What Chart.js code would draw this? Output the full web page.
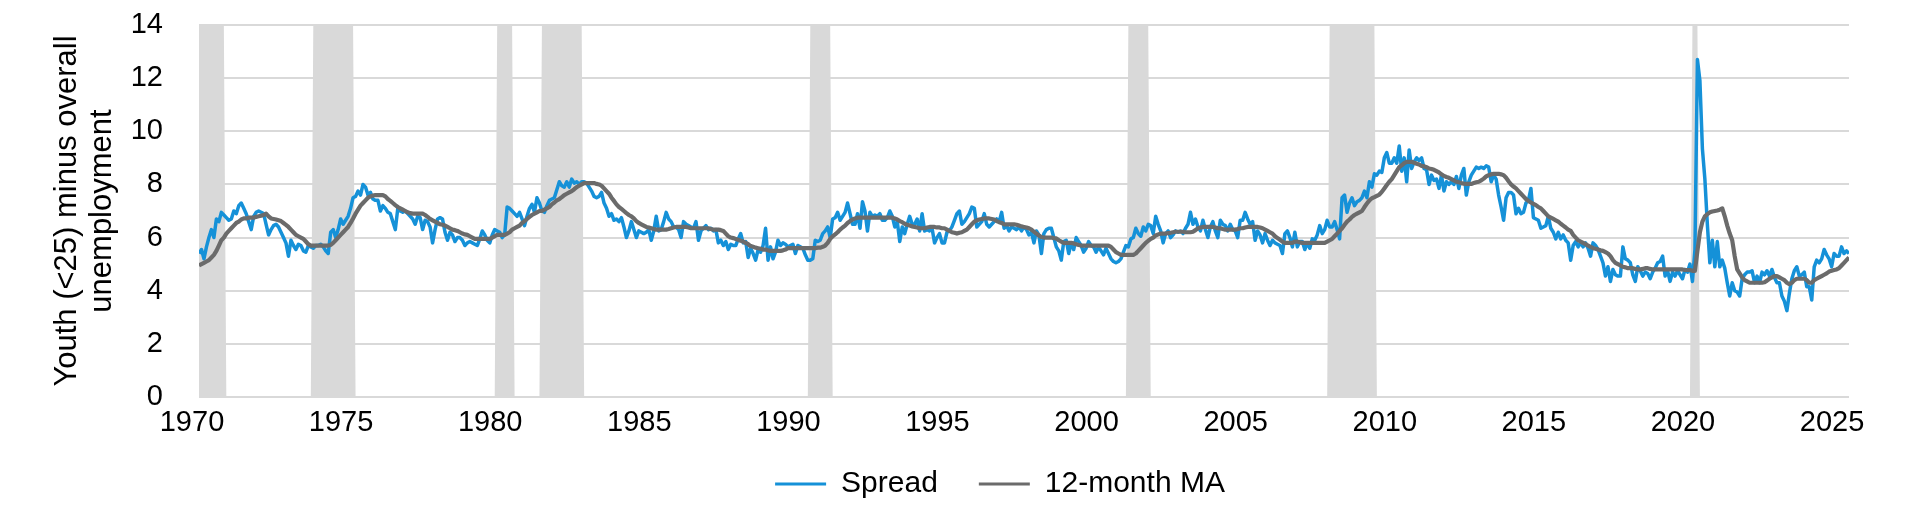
<!DOCTYPE html>
<html>
<head>
<meta charset="utf-8">
<script src="https://cdn.jsdelivr.net/npm/chart.js"></script>
<style>
	html, body { margin: 0; padding: 0; background: #fff; }
	#chartSpread { display: block; }
</style>
</head>
<body>
<canvas id="chartSpread" width="1913" height="506"></canvas>
<script>
'use strict'

// monthly series, first point = Jan 1970
const firstYear = 1970;

const spread = [
	5.4, 5.55, 5.2, 5.65, 6.0, 6.3, 6.0, 6.7, 6.6, 6.95, 6.85, 6.75,
	6.65, 6.7, 7.0, 6.9, 7.2, 7.3, 7.1, 6.9, 6.6, 6.3, 6.8, 6.95,
	7.0, 6.95, 6.9, 6.5, 6.1, 6.3, 6.45, 6.5, 6.4, 6.2, 6.0, 5.8,
	5.3, 5.9, 5.7, 5.55, 5.75, 5.7, 5.5, 5.45, 5.7, 5.65, 5.6, 5.7,
	5.7, 5.75, 5.65, 5.5, 5.4, 6.2, 6.3, 6.0, 6.3, 6.7, 6.5, 6.65,
	6.8, 7.1, 7.5, 7.55, 7.75, 7.6, 8.0, 7.9, 7.6, 7.7, 7.45, 7.4,
	7.4, 7.0, 7.2, 7.1, 6.95, 6.9, 6.6, 6.3, 7.1, 7.0, 6.95, 7.0,
	6.9, 6.8, 6.7, 6.5, 6.8, 6.75, 6.3, 6.65, 6.6, 6.4, 5.8, 6.3,
	6.7, 6.75, 6.7, 6.2, 5.9, 6.2, 6.1, 5.85, 6.0, 6.0, 5.9, 5.7,
	5.8, 5.85, 5.8, 5.75, 5.7, 5.95, 6.25, 6.1, 5.9, 5.8, 6.1, 6.3,
	6.25, 6.2, 6.0, 6.1, 7.15, 7.1, 7.0, 6.9, 6.8, 6.95, 6.7, 6.45,
	6.8, 7.1, 7.25, 6.95, 7.5, 7.3, 7.0, 6.95, 7.2, 7.4, 7.45, 7.5,
	7.8, 8.1, 7.95, 7.9, 8.1, 7.9, 8.2, 8.05, 8.1, 8.0, 8.1, 8.1,
	8.05, 7.9, 7.75, 7.55, 7.5, 7.55, 7.7, 7.3, 7.1, 6.8, 6.9, 6.65,
	6.7, 6.6, 6.75, 6.4, 6.0, 6.25, 6.6, 6.3, 6.0, 6.25, 6.2, 6.15,
	6.2, 6.3, 5.9, 6.25, 6.8, 6.25, 6.3, 6.6, 6.95, 6.7, 6.6, 6.4,
	6.4, 6.3, 6.0, 6.6, 6.5, 6.45, 6.4, 6.35, 6.6, 5.9, 6.25, 6.35,
	6.45, 6.3, 6.35, 6.25, 6.3, 5.8, 5.9, 5.7, 5.85, 5.55, 5.75, 5.7,
	5.7, 5.95, 6.15, 5.8, 5.85, 5.25, 5.6, 5.4, 5.15, 5.55, 5.45, 5.7,
	6.35, 5.15, 5.65, 5.2, 5.45, 5.9, 5.7, 5.8, 5.75, 5.65, 5.7, 5.75,
	5.4, 5.7, 5.65, 5.6, 5.35, 5.15, 5.15, 5.2, 5.9, 5.85, 5.9, 6.15,
	6.25, 6.4, 6.0, 6.7, 6.75, 6.95, 6.65, 6.8, 6.95, 7.3, 6.9, 6.5,
	6.5, 6.9, 6.35, 7.35, 7.0, 6.25, 6.95, 6.8, 6.85, 6.8, 6.9, 6.65,
	6.65, 6.75, 7.0, 6.8, 6.4, 6.6, 5.85, 6.4, 6.15, 6.5, 6.8, 6.5,
	6.5, 6.7, 6.25, 6.9, 6.25, 6.3, 6.25, 6.35, 5.8, 6.0, 6.15, 5.8,
	5.8, 6.2, 6.25, 6.4, 6.65, 6.9, 7.0, 6.5, 6.6, 6.75, 6.9, 7.15,
	7.1, 6.4, 6.5, 6.6, 6.9, 6.5, 6.4, 6.5, 6.6, 6.7, 6.6, 6.95,
	6.35, 6.45, 6.25, 6.4, 6.35, 6.3, 6.4, 6.25, 6.4, 6.3, 6.1, 6.2,
	5.8, 6.25, 6.1, 5.4, 6.15, 6.3, 6.35, 6.35, 6.0, 5.65, 5.5, 5.15,
	5.85, 5.9, 5.4, 5.8, 5.55, 6.0, 5.85, 5.7, 5.45, 5.6, 5.85, 5.7,
	5.65, 5.45, 5.65, 5.5, 5.35, 5.6, 5.4, 5.2, 5.1, 5.05, 5.1, 5.2,
	5.45, 5.7, 5.65, 5.95, 6.0, 6.35, 6.15, 6.05, 6.4, 6.25, 6.5, 6.45,
	6.15, 6.8, 6.5, 6.25, 5.8, 6.15, 6.25, 6.0, 6.1, 6.25, 6.2, 6.25,
	6.15, 6.35, 6.5, 6.95, 6.5, 6.7, 6.4, 6.25, 6.65, 6.3, 6.0, 6.4,
	6.6, 6.25, 6.0, 6.65, 6.5, 6.45, 6.25, 6.5, 6.3, 6.25, 6.0, 6.65,
	6.65, 6.95, 6.7, 6.5, 6.6, 5.9, 6.25, 6.1, 5.8, 6.15, 5.9, 5.7,
	5.9, 5.8, 5.75, 5.7, 5.4, 6.15, 6.25, 6.0, 5.65, 6.2, 5.65, 5.85,
	5.85, 5.55, 5.8, 5.6, 5.95, 5.9, 6.1, 6.45, 6.15, 6.3, 6.65, 6.4,
	6.4, 6.6, 6.3, 5.95, 7.5, 7.6, 6.95, 7.3, 7.5, 7.2, 7.35, 7.4,
	7.5, 7.75, 7.5, 8.1, 7.9, 8.4, 8.35, 8.5, 8.45, 9.0, 9.2, 8.8,
	8.8, 9.0, 8.8, 9.45, 8.5, 9.0, 8.1, 9.3, 8.6, 8.85, 9.0, 8.9,
	9.0, 8.6, 8.55, 8.0, 8.35, 8.15, 8.2, 7.85, 8.35, 7.75, 8.1, 8.0,
	8.1, 8.0, 8.3, 7.85, 8.35, 8.6, 7.6, 8.1, 8.35, 8.5, 8.65, 8.6,
	8.65, 8.6, 8.7, 8.65, 8.1, 8.35, 8.2, 7.6, 7.15, 6.65, 7.5, 7.7,
	7.7, 7.6, 6.9, 7.1, 6.9, 6.95, 7.3, 7.4, 7.85, 6.75, 6.7, 6.65,
	6.35, 6.4, 6.45, 6.8, 6.35, 6.2, 5.95, 6.2, 5.95, 6.1, 5.9, 5.8,
	5.15, 5.7, 5.85, 5.65, 5.8, 5.65, 5.8, 5.6, 5.3, 5.8, 5.7, 5.55,
	5.3, 5.05, 4.55, 4.9, 4.35, 4.8, 4.6, 4.55, 4.55, 5.65, 5.2, 5.15,
	5.05, 4.6, 4.35, 4.9, 4.75, 4.55, 4.7, 4.65, 4.45, 4.7, 4.85, 5.05,
	5.1, 5.3, 4.55, 4.75, 4.35, 4.7, 4.55, 4.75, 4.6, 4.45, 4.8, 4.7,
	5.0, 4.35, 5.55, 12.7, 11.9, 9.35, 8.2, 6.5, 5.05, 5.9, 4.9, 5.85,
	4.9, 5.15, 4.85, 4.3, 3.8, 4.3, 4.0, 3.95, 3.8, 4.45, 4.6, 4.7,
	4.7, 4.75, 4.3, 4.55, 4.3, 4.7, 4.6, 4.75, 4.55, 4.8, 4.5, 4.3,
	4.3, 3.8, 3.6, 3.25, 3.9, 4.45, 4.75, 4.9, 4.55, 4.6, 4.7, 4.15,
	4.15, 3.65, 4.9, 5.15, 5.05, 5.2, 5.55, 5.35, 5.2, 4.9, 5.4, 5.3,
	5.3, 5.65, 5.4, 5.5, 5.4
];

const movingAvg = [
	4.95, 5.0, 5.05, 5.1, 5.15, 5.25, 5.35, 5.5, 5.7, 5.9, 6.0, 6.15,
	6.25, 6.35, 6.45, 6.55, 6.6, 6.68, 6.72, 6.72, 6.75, 6.75, 6.75, 6.78,
	6.8, 6.82, 6.85, 6.9, 6.8, 6.72, 6.7, 6.68, 6.65, 6.62, 6.55, 6.48,
	6.4, 6.3, 6.2, 6.1, 6.05, 6.0, 5.95, 5.85, 5.75, 5.7, 5.7, 5.7,
	5.7, 5.7, 5.7, 5.7, 5.7, 5.72, 5.8, 5.9, 6.0, 6.1, 6.2, 6.3,
	6.4, 6.55, 6.72, 6.9, 7.05, 7.2, 7.3, 7.4, 7.5, 7.55, 7.58, 7.6,
	7.6, 7.6, 7.6, 7.55, 7.45, 7.38, 7.3, 7.22, 7.15, 7.1, 7.05, 7.0,
	6.95, 6.92, 6.9, 6.9, 6.9, 6.9, 6.9, 6.85, 6.78, 6.7, 6.65, 6.6,
	6.55, 6.5, 6.48, 6.45, 6.4, 6.35, 6.3, 6.28, 6.25, 6.2, 6.15, 6.12,
	6.1, 6.05, 6.0, 5.95, 5.95, 5.95, 5.95, 5.95, 5.95, 5.95, 6.0, 6.05,
	6.1, 6.1, 6.1, 6.1, 6.15, 6.2, 6.3, 6.35, 6.4, 6.45, 6.55, 6.62,
	6.7, 6.78, 6.85, 6.9, 6.95, 7.0, 7.0, 7.05, 7.1, 7.15, 7.25, 7.32,
	7.4, 7.45, 7.52, 7.6, 7.65, 7.7, 7.75, 7.82, 7.9, 7.95, 8.0, 8.05,
	8.05, 8.05, 8.05, 8.05, 8.02, 8.0, 7.95, 7.85, 7.75, 7.65, 7.5, 7.38,
	7.25, 7.15, 7.08, 7.0, 6.92, 6.85, 6.8, 6.72, 6.62, 6.55, 6.5, 6.45,
	6.4, 6.38, 6.35, 6.32, 6.3, 6.3, 6.3, 6.3, 6.3, 6.32, 6.35, 6.38,
	6.4, 6.4, 6.4, 6.4, 6.4, 6.38, 6.35, 6.35, 6.35, 6.35, 6.35, 6.35,
	6.35, 6.35, 6.32, 6.3, 6.3, 6.3, 6.28, 6.25, 6.15, 6.05, 6.0, 5.98,
	5.95, 5.92, 5.88, 5.85, 5.8, 5.75, 5.68, 5.65, 5.62, 5.6, 5.58, 5.55,
	5.55, 5.52, 5.5, 5.5, 5.5, 5.5, 5.5, 5.52, 5.55, 5.6, 5.6, 5.6,
	5.6, 5.6, 5.6, 5.6, 5.6, 5.6, 5.6, 5.6, 5.6, 5.62, 5.62, 5.65,
	5.7, 5.8, 5.95, 6.05, 6.12, 6.2, 6.3, 6.38, 6.45, 6.55, 6.62, 6.68,
	6.72, 6.75, 6.75, 6.75, 6.75, 6.75, 6.75, 6.75, 6.75, 6.75, 6.75, 6.75,
	6.75, 6.75, 6.75, 6.75, 6.72, 6.68, 6.62, 6.58, 6.52, 6.48, 6.45, 6.42,
	6.4, 6.38, 6.35, 6.35, 6.35, 6.38, 6.4, 6.4, 6.4, 6.38, 6.38, 6.35,
	6.35, 6.3, 6.25, 6.2, 6.18, 6.15, 6.18, 6.2, 6.25, 6.3, 6.4, 6.5,
	6.6, 6.65, 6.68, 6.7, 6.72, 6.72, 6.72, 6.7, 6.68, 6.62, 6.58, 6.55,
	6.5, 6.5, 6.5, 6.5, 6.5, 6.48, 6.45, 6.42, 6.4, 6.38, 6.35, 6.3,
	6.22, 6.15, 6.08, 6.02, 6.0, 6.0, 6.0, 6.0, 5.98, 5.97, 5.9, 5.85,
	5.8, 5.8, 5.8, 5.8, 5.78, 5.75, 5.72, 5.7, 5.7, 5.7, 5.7, 5.7,
	5.7, 5.7, 5.7, 5.7, 5.7, 5.7, 5.7, 5.65, 5.55, 5.45, 5.4, 5.35,
	5.35, 5.35, 5.35, 5.35, 5.35, 5.4, 5.5, 5.6, 5.7, 5.8, 5.88, 5.95,
	6.0, 6.08, 6.12, 6.15, 6.15, 6.15, 6.17, 6.18, 6.2, 6.22, 6.22, 6.22,
	6.22, 6.2, 6.2, 6.2, 6.22, 6.28, 6.35, 6.38, 6.4, 6.4, 6.4, 6.4,
	6.4, 6.38, 6.35, 6.35, 6.32, 6.3, 6.3, 6.3, 6.3, 6.3, 6.32, 6.35,
	6.35, 6.38, 6.4, 6.4, 6.4, 6.4, 6.4, 6.38, 6.35, 6.3, 6.25, 6.2,
	6.15, 6.05, 5.98, 5.92, 5.85, 5.8, 5.8, 5.8, 5.8, 5.85, 5.85, 5.82,
	5.8, 5.8, 5.8, 5.8, 5.8, 5.8, 5.8, 5.8, 5.8, 5.8, 5.85, 5.9,
	5.95, 6.05, 6.15, 6.25, 6.35, 6.48, 6.6, 6.68, 6.78, 6.85, 6.9, 6.95,
	7.0, 7.15, 7.28, 7.4, 7.48, 7.52, 7.57, 7.62, 7.72, 7.85, 7.98, 8.1,
	8.2, 8.35, 8.5, 8.65, 8.72, 8.8, 8.85, 8.85, 8.85, 8.82, 8.78, 8.75,
	8.7, 8.68, 8.65, 8.6, 8.58, 8.55, 8.5, 8.45, 8.38, 8.32, 8.28, 8.25,
	8.2, 8.15, 8.1, 8.08, 8.05, 8.03, 8.02, 8.02, 8.02, 8.05, 8.08, 8.1,
	8.15, 8.22, 8.3, 8.35, 8.38, 8.4, 8.4, 8.4, 8.38, 8.35, 8.25, 8.12,
	8.0, 7.92, 7.85, 7.75, 7.65, 7.55, 7.45, 7.38, 7.32, 7.27, 7.22, 7.15,
	7.1, 7.0, 6.9, 6.8, 6.75, 6.7, 6.65, 6.6, 6.52, 6.45, 6.38, 6.3,
	6.25, 6.1, 6.0, 5.9, 5.85, 5.8, 5.75, 5.7, 5.65, 5.6, 5.58, 5.55,
	5.52, 5.5, 5.45, 5.4, 5.3, 5.15, 5.05, 5.0, 4.95, 4.9, 4.88, 4.85,
	4.85, 4.85, 4.82, 4.8, 4.8, 4.82, 4.85, 4.85, 4.82, 4.8, 4.8, 4.8,
	4.8, 4.8, 4.8, 4.8, 4.8, 4.8, 4.8, 4.8, 4.8, 4.8, 4.78, 4.78,
	4.78, 4.75, 4.75, 5.5, 6.2, 6.6, 6.8, 6.88, 6.95, 6.98, 7.0, 7.02,
	7.05, 7.1, 6.8, 6.45, 6.15, 5.9, 5.3, 4.8, 4.65, 4.5, 4.4, 4.35,
	4.3, 4.3, 4.3, 4.3, 4.3, 4.3, 4.32, 4.38, 4.45, 4.5, 4.55, 4.55,
	4.5, 4.45, 4.4, 4.3, 4.25, 4.3, 4.4, 4.45, 4.45, 4.45, 4.45, 4.4,
	4.3, 4.3, 4.4, 4.45, 4.5, 4.55, 4.6, 4.65, 4.72, 4.75, 4.78, 4.8,
	4.85, 4.95, 5.05, 5.15, 5.25
];

// NBER recessions, decimal years (first and last month)
const recessionStart = [1970.0, 1973.833, 1980.0, 1981.5, 1990.5, 2001.167, 2007.917, 2020.083];
const recessionEnd = [1970.833, 1975.167, 1980.5, 1982.833, 1991.167, 2001.833, 2009.417, 2020.25];

const xTickYears = [1970, 1975, 1980, 1985, 1990, 1995, 2000, 2005, 2010, 2015, 2020, 2025];
const yMin = 0;
const yMax = 14;
const yStep = 2;

const colors = {
	spread: '#1591d8',
	movingAvg: '#6b6b6b',
	recession: '#d9d9d9',
	grid: '#d9d9d9',
	text: '#000000',
};

const fontFamily = "'Liberation Sans', Arial, sans-serif";

const spreadPoints = spread.map((v, i) => ({ x: firstYear + i / 12, y: v }));
const maPoints = movingAvg.map((v, i) => ({ x: firstYear + i / 12, y: v }));

let recessionPoints = [];
recessionStart.forEach(function (start, i) {
	recessionPoints.push({ x: start - 1 / 12, y: 0 });
	recessionPoints.push({ x: start, y: yMax });
	recessionPoints.push({ x: recessionEnd[i], y: yMax });
	recessionPoints.push({ x: recessionEnd[i] + 1 / 12, y: 0 });
});

const lastX = firstYear + (spread.length - 1) / 12;

Chart.defaults.font.family = fontFamily;
Chart.defaults.color = colors.text;

// legend sits centred under the plot, a little higher than the layout puts it
const legendShift = {
	id: 'legendShift',
	afterLayout: function (chart) {
		if (chart.legend) {
			chart.legend.left = 151;
			chart.legend.right = 1849;
			chart.legend.top = 428;
		}
	},
};

let chartSpread = new Chart(document.getElementById('chartSpread'), {
	type: 'line',
	data: {
		datasets: [
			{
				label: 'Spread',
				data: spreadPoints,
				borderColor: colors.spread,
				backgroundColor: colors.spread,
				borderWidth: 3.5,
				borderJoinStyle: 'round',
				pointRadius: 0,
				fill: false,
				order: 1,
			},
			{
				label: '12-month MA',
				data: maPoints,
				borderColor: colors.movingAvg,
				backgroundColor: colors.movingAvg,
				borderWidth: 4.2,
				borderJoinStyle: 'round',
				pointRadius: 0,
				fill: false,
				order: 0,
			},
			{
				label: 'Recession',
				data: recessionPoints,
				borderColor: 'rgba(0,0,0,0)',
				borderWidth: 0,
				backgroundColor: colors.recession,
				pointRadius: 0,
				fill: 'origin',
				order: 2,
			},
		],
	},
	options: {
		responsive: false,
		animation: false,
		events: [],
		layout: {
			padding: { top: 25, right: 64, bottom: 0, left: 0 },
		},
		plugins: {
			legend: {
				position: 'bottom',
				maxHeight: 61,
				labels: {
					boxWidth: 51,
					boxHeight: 3,
					padding: 41,
					color: colors.text,
					font: { size: 30 },
					generateLabels: function (chart) {
						let items = Chart.defaults.plugins.legend.labels.generateLabels(chart);
						items = items.filter(item => item.datasetIndex < 2);
						items.sort((a, b) => a.datasetIndex - b.datasetIndex);
						items.forEach(function (item) {
							item.fillStyle = item.strokeStyle;
							item.lineWidth = 0;
						});
						return items;
					},
				},
			},
			tooltip: { enabled: false },
		},
		scales: {
			x: {
				type: 'linear',
				min: firstYear,
				max: lastX,
				afterBuildTicks: function (scale) {
					scale.ticks = xTickYears.map(v => ({ value: v }));
				},
				afterFit: function (scale) {
					scale.height = 48;
				},
				grid: { display: false },
				border: { display: false },
				ticks: {
					padding: 1,
					labelOffset: -7,
					maxRotation: 0,
					autoSkip: false,
					color: colors.text,
					font: { size: 29 },
					callback: v => String(v),
				},
			},
			y: {
				min: yMin,
				max: yMax,
				afterFit: function (scale) {
					scale.width = 199;
				},
				grid: {
					color: colors.grid,
					lineWidth: 2,
					drawTicks: true,
					tickLength: 36,
					tickColor: 'rgba(0,0,0,0)',
				},
				border: { display: false },
				ticks: {
					stepSize: yStep,
					padding: 0,
					color: colors.text,
					font: { size: 29 },
				},
				title: {
					display: true,
					text: ['Youth (<25) minus overall', 'unemployment'],
					color: colors.text,
					font: { size: 31, lineHeight: 1.16 },
					padding: { top: 49, bottom: 0 },
				},
			},
		},
	},
	plugins: [legendShift],
});
</script>
</body>
</html>
